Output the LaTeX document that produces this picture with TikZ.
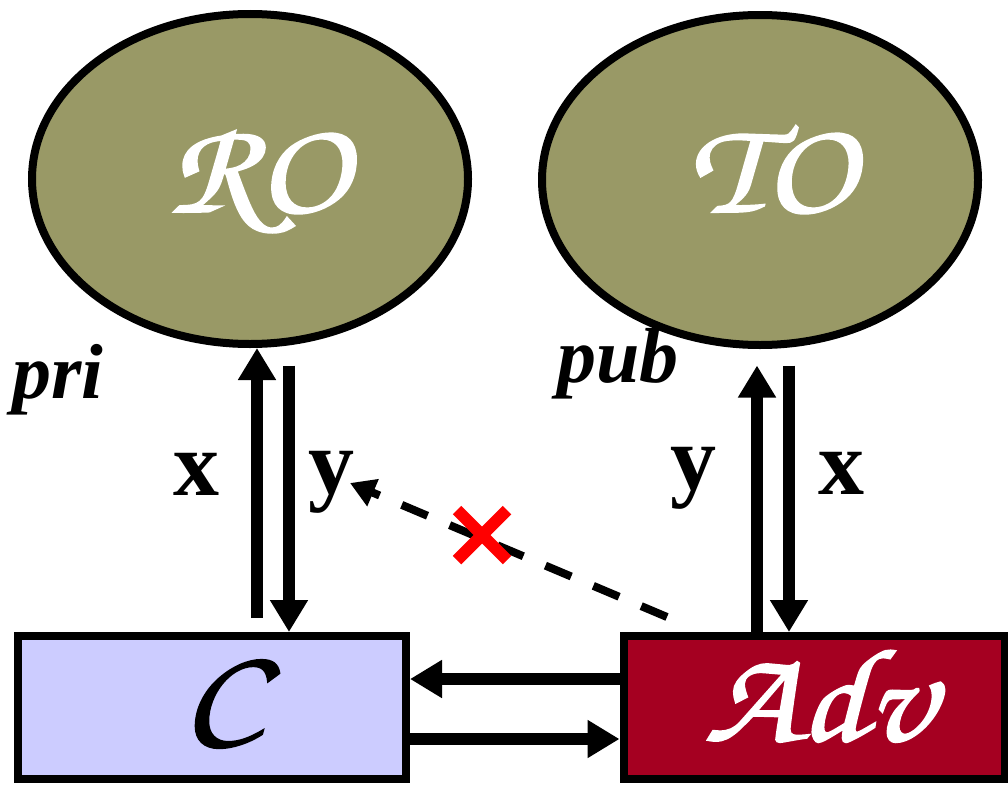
\documentclass[tikz,border=0pt]{standalone}
\usepackage{fontspec}
\setmainfont{Liberation Serif}
\newfontfamily\callig{texgyrechorus-mediumitalic.otf}[FakeBold=1.5,FakeStretch=1.15]
\usetikzlibrary{arrows.meta,shapes.geometric,calc}

\definecolor{oraclefill}{HTML}{999966}
\definecolor{chalfill}{HTML}{CCCCFF}
\definecolor{advfill}{HTML}{A50021}
\definecolor{nored}{HTML}{FF0000}

\begin{document}
\begin{tikzpicture}[x=1pt,y=-1pt,
  oraclenode/.style={ellipse, draw, line width=8pt, fill=oraclefill,
    minimum width=436pt, minimum height=330pt, inner sep=0pt},
  partybox/.style={rectangle, draw, line width=8pt, minimum height=143pt,
    inner sep=0pt},
  partyname/.style={font=\callig\fontsize{133}{133}\selectfont, anchor=base, inner sep=0pt},
  flow/.style={line width=12pt, -{Triangle[width=36pt,length=32pt]}},
  msg/.style={font=\bfseries\fontsize{92}{92}\selectfont, anchor=base, inner sep=0pt},
  keylabel/.style={font=\bfseries\itshape\fontsize{78}{78}\selectfont, anchor=base west, inner sep=0pt},
  leak/.style={line width=8pt, dash pattern=on 28pt off 24pt, -{Triangle[width=28pt,length=25pt]}},
  nope/.style={line width=12pt, draw=nored},
]
\useasboundingbox (0,0) rectangle (1008,787);

% oracles
\node[oraclenode] (ro) at (250,179) {};
\node[oraclenode] (to) at (760,180) {};
\node[partyname, text=white] (roname) at ($(ro.center)+(8,33)$) {RO};
\node[partyname, text=white] (toname) at ($(to.center)+(11,32)$) {TO};

% parties
\node[partybox, fill=chalfill, minimum width=388pt] (c) at (212,707.5) {};
\node[partybox, fill=advfill, minimum width=381pt] (adv) at (814,707.5) {};
\node[partyname] (cname) at ($(c.center)+(10,31)$) {C};
\node[partyname, text=white] (advname) at ($(adv.center)+(5,33)$) {Adv};

% key labels
\node[keylabel] (pri) at (12,398) {pri};
\node[keylabel] (pub) at (557,382) {pub};

% message labels
\node[msg] (xl) at (196,495) {x};
\node[msg] (yl) at (331,493) {y};
\node[msg] (yr) at (693,489) {y};
\node[msg] (xr) at (841,494) {x};

% anchor points of the vertical message arrows
\coordinate (roq) at ($(c.north)+(45,-14)$);
\coordinate (roa) at ($(c.north)+(77,0)$);
\coordinate (rogap) at ([yshift=-17.5pt]ro.south);
\coordinate (toa) at ($(adv.north)+(-57,0)$);
\coordinate (toq) at ($(adv.north)+(-25,0)$);
\coordinate (togap) at ([yshift=-16.5pt]to.south);

% C <-> RO
\draw[flow] (roq) -- (roq |- ro.south);
\draw[flow] (roa |- rogap) -- (roa);

% Adv <-> TO
\draw[flow] (toa) -- (toa |- togap);
\draw[flow] (toq |- togap) -- (toq);

% Adv <-> C
\draw[flow] ($(adv.west)+(0,-28.5)$) -- ($(c.east)+(0,-28.5)$);
\draw[flow] ($(c.east)+(0,31.5)$) -- ($(adv.west)+(0,31.5)$);

% blocked path from Adv to the private oracle's answer
\coordinate (leakfrom) at (667,617);
\coordinate (leakto) at (350,483);
\draw[leak] (leakfrom) -- (leakto);

% red cross over the blocked path
\coordinate (xmark) at (482,535);
\draw[nope] ($(xmark)+(-25,-25)$) -- ($(xmark)+(25,25)$);
\draw[nope] ($(xmark)+(-25,25)$) -- ($(xmark)+(25,-25)$);
\end{tikzpicture}
\end{document}
